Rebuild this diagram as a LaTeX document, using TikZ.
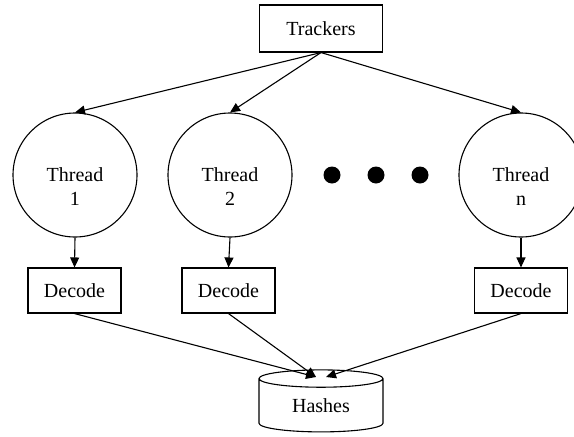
\documentclass[tikz,border=0pt]{standalone}
\usepackage{fontspec}
\setmainfont{Liberation Serif}
\usetikzlibrary{shapes.geometric,arrows.meta}
\begin{document}
\begin{tikzpicture}[x=1pt,y=-1pt,
  every node/.style={font=\fontsize{20}{24}\selectfont},
  box/.style={draw,line width=1.1pt,minimum width=93pt,minimum height=45pt,inner sep=0pt},
  thread/.style={draw,circle,line width=1.1pt,minimum size=124pt,inner sep=0pt},
  tlabel/.style={align=center,yshift=-12pt,font=\fontsize{20}{24}\selectfont},
  conn/.style={line width=1.1pt,-{Triangle[length=10pt,width=9pt]}},
  dot/.style={fill,circle,minimum size=17pt,inner sep=0pt}]
\useasboundingbox (0,0) rectangle (574,437);
\begin{scope}
\clip (0,0) rectangle (574,437);
\node[box,minimum width=123pt,minimum height=47pt] (tr) at (321,28.5) {Trackers};
\node[thread,label={[tlabel]center:Thread\\1}] (t1) at (75,175) {};
\node[thread,label={[tlabel]center:Thread\\2}] (t2) at (230,175) {};
\node[thread,label={[tlabel]center:Thread\\n}] (tn) at (521,175) {};
\node[dot] (d1) at (332,175) {};
\node[dot] (d2) at (376,175) {};
\node[dot] (d3) at (420,175) {};
\node[box] (c1) at (74.5,290.5) {Decode};
\node[box] (c2) at (228.5,290.5) {Decode};
\node[box] (cn) at (521,290.5) {Decode};
\node[cylinder,shape border rotate=90,draw,line width=1.1pt,aspect=0.3,minimum width=124pt,minimum height=62pt,inner sep=0pt] (h) at (321,405.5) {Hashes};
\coordinate (hl) at (316,377);
\coordinate (hr) at (326,377);
\draw[conn] (tr.south) -- (t1.north);
\draw[conn] (tr.south) -- (t2.north);
\draw[conn] (tr.south) -- (tn.north);
\draw[conn] (t1.south) -- (c1.north);
\draw[conn] (t2.south) -- (c2.north);
\draw[conn] (tn.south) -- (cn.north);
\draw[conn] (c1.south) -- (hl);
\draw[conn] (c2.south) -- (hl);
\draw[conn] (cn.south) -- (hr);
\end{scope}
\end{tikzpicture}
\end{document}
